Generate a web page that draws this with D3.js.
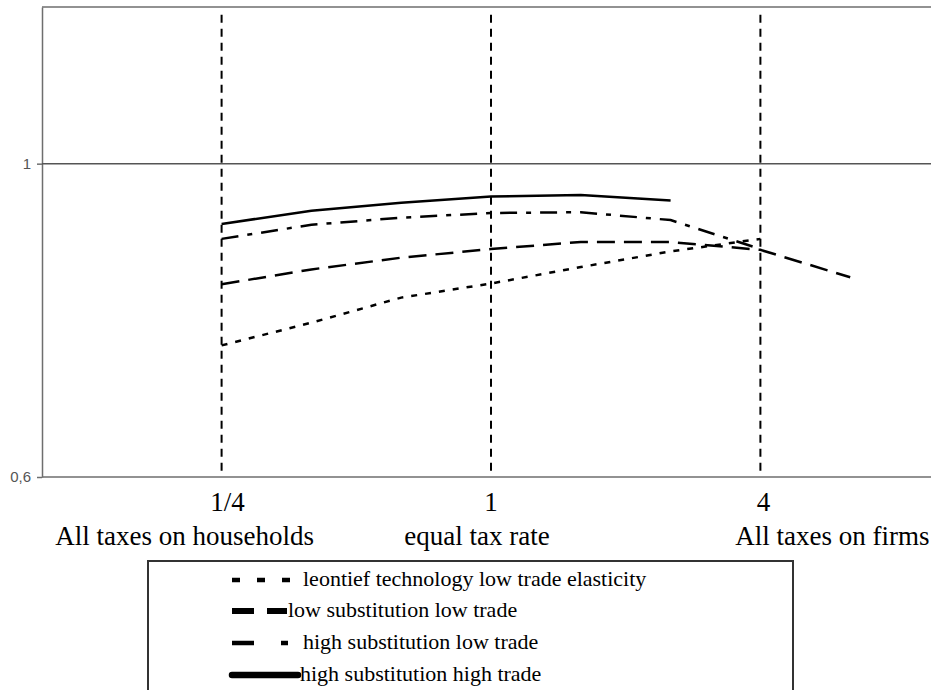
<!DOCTYPE html>
<html>
<head>
<meta charset="utf-8">
<script src="https://cdn.jsdelivr.net/npm/d3@7"></script>
<style>
  body { margin: 0; background: #fff; }
</style>
</head>
<body>
<div class="canvas"></div>
<script>
// data (index 0 = 1/4, 3 = 1, 6 = 4, log steps in between)
const ratioIndex = [0, 3, 6];
const ratioLabels = ['1/4', '1', '4'];
const ratioNames = ['All taxes on households', 'equal tax rate', 'All taxes on firms'];

const leontief = [0.768, 0.797, 0.829, 0.847, 0.868, 0.888, 0.904];
const lowSubLowTrade = [0.846, 0.865, 0.880, 0.891, 0.900, 0.900, 0.890, 0.855];
const highSubLowTrade = [0.904, 0.922, 0.931, 0.937, 0.938, 0.928, 0.891];
const highSubHighTrade = [0.923, 0.940, 0.950, 0.958, 0.960, 0.953];

const seriesNames = [
  'leontief technology low trade elasticity',
  'low substitution low trade',
  'high substitution low trade',
  'high substitution high trade'
];

const yTicks = [0.6, 1];

// layout
const width = 931, height = 690;
const nameOffset = [-37, -14, 72]; // second line labels are not centred on the ratio

const svg = d3.select('.canvas')
  .append('svg')
  .attr('width', width)
  .attr('height', height);

const x = d3.scaleLinear().domain([-2, 8]).range([42, 940]);
const y = d3.scaleLinear().domain([0.6, 1.2]).range([477, 7]);

const gray = '#6e6e6e';
const serif = '"Liberation Serif", "Times New Roman", serif';

// frame: top and bottom
svg.append('line')
  .attr('x1', x(-2)).attr('x2', width)
  .attr('y1', y(1.2)).attr('y2', y(1.2))
  .attr('stroke', gray).attr('stroke-width', 1.5);

svg.append('line')
  .attr('x1', x(-2)).attr('x2', width)
  .attr('y1', y(0.6)).attr('y2', y(0.6))
  .attr('stroke', gray).attr('stroke-width', 1.5);

// y axis
const yAxis = d3.axisLeft(y)
  .tickValues(yTicks)
  .tickFormat(d => d === 1 ? '1' : '0,6')
  .tickSize(5)
  .tickSizeOuter(0)
  .tickPadding(6);

const yAxisGroup = svg.append('g')
  .attr('transform', `translate(${x(-2)}, 0)`)
  .call(yAxis);

yAxisGroup.select('.domain').attr('stroke', gray).attr('stroke-width', 1.5);
yAxisGroup.selectAll('.tick line').attr('stroke', gray).attr('stroke-width', 1.5);
yAxisGroup.selectAll('.tick text')
  .attr('fill', '#555')
  .attr('font-family', '"Liberation Sans", Arial, sans-serif')
  .attr('font-size', 15);

// reference line at 1
svg.append('line')
  .attr('x1', x(-2)).attr('x2', width)
  .attr('y1', y(1)).attr('y2', y(1))
  .attr('stroke', '#555').attr('stroke-width', 1.5);

// vertical dashed markers
svg.selectAll('.marker')
  .data(ratioIndex)
  .enter()
  .append('line')
    .attr('class', 'marker')
    .attr('x1', d => x(d)).attr('x2', d => x(d))
    .attr('y1', y(1.19)).attr('y2', y(0.608))
    .attr('stroke', '#000')
    .attr('stroke-width', 2)
    .attr('stroke-dasharray', '8,6');

// x labels
svg.selectAll('.ratio')
  .data(ratioLabels)
  .enter()
  .append('text')
    .attr('class', 'ratio')
    .attr('x', (d, i) => x(ratioIndex[i]) + (i === 0 ? 6 : i === 2 ? 3 : 0))
    .attr('y', 511)
    .attr('text-anchor', 'middle')
    .attr('font-family', serif)
    .attr('font-size', 27)
    .text(d => d);

svg.selectAll('.ratioName')
  .data(ratioNames)
  .enter()
  .append('text')
    .attr('class', 'ratioName')
    .attr('x', (d, i) => x(ratioIndex[i]) + nameOffset[i])
    .attr('y', 545)
    .attr('text-anchor', 'middle')
    .attr('font-family', serif)
    .attr('font-size', 27)
    .text(d => d);

// series
const styles = [
  { dash: '6,8', width: 2.5, legendDash: '8,17', legendWidth: 4.5 },
  { dash: '18,9', width: 2.5, legendDash: '22,13', legendWidth: 6 },
  { dash: '17,9,5,9', width: 2.5, legendDash: '22,27,7,100', legendWidth: 4.5 },
  { dash: null, width: 2.5, legendDash: null, legendWidth: 6.5 }
];
const allSeries = [leontief, lowSubLowTrade, highSubLowTrade, highSubHighTrade];

const line = d3.line()
  .x((d, i) => x(i))
  .y(d => y(d));

svg.selectAll('.series')
  .data(allSeries)
  .enter()
  .append('path')
    .attr('class', 'series')
    .attr('d', d => line(d))
    .attr('fill', 'none')
    .attr('stroke', '#000')
    .attr('stroke-width', (d, i) => styles[i].width)
    .attr('stroke-dasharray', (d, i) => styles[i].dash);

// legend
const legend = svg.append('g');

legend.append('rect')
  .attr('x', 148).attr('y', 561)
  .attr('width', 645).attr('height', 160)
  .attr('fill', 'none')
  .attr('stroke', '#333')
  .attr('stroke-width', 2);

const rowY = [580, 611, 643, 675];
const sampleEnd = [292, 287, 292, 298];
const textX = [303, 288, 303, 300];

const rows = legend.selectAll('.row')
  .data(seriesNames)
  .enter()
  .append('g')
    .attr('class', 'row')
    .attr('transform', (d, i) => `translate(0, ${rowY[i]})`);

rows.append('line')
  .attr('x1', 232)
  .attr('x2', (d, i) => sampleEnd[i])
  .attr('y1', 0).attr('y2', 0)
  .attr('stroke', '#000')
  .attr('stroke-width', (d, i) => styles[i].legendWidth)
  .attr('stroke-linecap', (d, i) => i === 3 ? 'round' : 'butt')
  .attr('stroke-dasharray', (d, i) => styles[i].legendDash);

rows.append('text')
  .attr('x', (d, i) => textX[i])
  .attr('y', 6)
  .attr('font-family', serif)
  .attr('font-size', 22)
  .text(d => d);
</script>
</body>
</html>
